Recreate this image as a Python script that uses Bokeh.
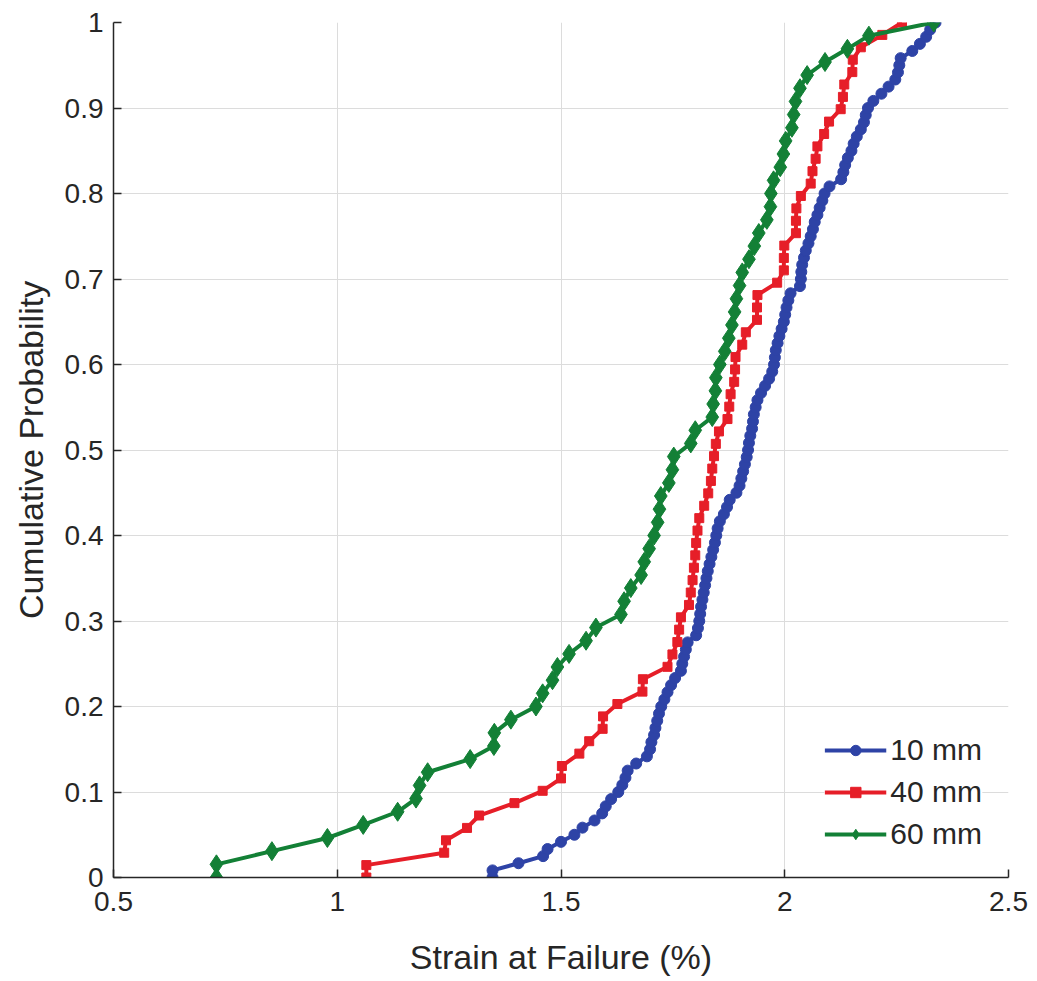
from bokeh.plotting import figure
from bokeh.models import Legend, LegendItem, FixedTicker, Range1d
from bokeh.embed import file_html
from bokeh.resources import INLINE

# ---- data ----
series_names = ["10 mm", "40 mm", "60 mm"]

x_10mm = [1.347, 1.347, 1.405, 1.46, 1.47, 1.50, 1.53, 1.548, 1.575, 1.592,
          1.600, 1.612, 1.628, 1.637, 1.644, 1.649, 1.668, 1.692, 1.699, 1.702,
          1.708, 1.711, 1.715, 1.719, 1.724, 1.731, 1.738, 1.746, 1.755, 1.768,
          1.771, 1.775, 1.779, 1.783, 1.802, 1.806, 1.809, 1.811, 1.813, 1.816,
          1.819, 1.822, 1.825, 1.828, 1.832, 1.836, 1.840, 1.844, 1.847, 1.850,
          1.855, 1.864, 1.871, 1.877, 1.892, 1.899, 1.903, 1.907, 1.911, 1.915,
          1.918, 1.920, 1.923, 1.927, 1.929, 1.931, 1.935, 1.939, 1.947, 1.956,
          1.965, 1.972, 1.976, 1.978, 1.980, 1.984, 1.988, 1.993, 1.998, 2.001,
          2.004, 2.008, 2.013, 2.034, 2.036, 2.037, 2.039, 2.043, 2.047, 2.053,
          2.058, 2.063, 2.067, 2.073, 2.078, 2.084, 2.089, 2.100, 2.126, 2.131,
          2.135, 2.141, 2.149, 2.154, 2.161, 2.170, 2.177, 2.181, 2.186, 2.198,
          2.216, 2.232, 2.247, 2.253, 2.256, 2.259, 2.285, 2.302, 2.316, 2.325,
          2.337]
y_10mm = [0, 0.0083, 0.0167, 0.025, 0.0333, 0.0417, 0.05, 0.0583, 0.0667, 0.075,
          0.0833, 0.0917, 0.1, 0.1083, 0.1167, 0.125, 0.1333, 0.1417, 0.15, 0.1583,
          0.1667, 0.175, 0.1833, 0.1917, 0.2, 0.2083, 0.2167, 0.225, 0.2333, 0.2417,
          0.25, 0.2583, 0.2667, 0.275, 0.2833, 0.2917, 0.3, 0.3083, 0.3167, 0.325,
          0.3333, 0.3417, 0.35, 0.3583, 0.3667, 0.375, 0.3833, 0.3917, 0.4, 0.4083,
          0.4167, 0.425, 0.4333, 0.4417, 0.45, 0.4583, 0.4667, 0.475, 0.4833, 0.4917,
          0.5, 0.5083, 0.5167, 0.525, 0.5333, 0.5417, 0.55, 0.5583, 0.5667, 0.575,
          0.5833, 0.5917, 0.6, 0.6083, 0.6167, 0.625, 0.6333, 0.6417, 0.65, 0.6583,
          0.6667, 0.675, 0.6833, 0.6917, 0.7, 0.7083, 0.7167, 0.725, 0.7333, 0.7417,
          0.75, 0.7583, 0.7667, 0.775, 0.7833, 0.7917, 0.8, 0.8083, 0.8167, 0.825,
          0.8333, 0.8417, 0.85, 0.8583, 0.8667, 0.875, 0.8833, 0.8917, 0.9, 0.9083,
          0.9167, 0.925, 0.9333, 0.9417, 0.95, 0.9583, 0.9667, 0.975, 0.9833, 0.9917,
          1.0]

x_40mm = [1.065, 1.065, 1.239, 1.243, 1.29, 1.317, 1.396, 1.459, 1.5, 1.502,
          1.541, 1.563, 1.593, 1.594, 1.626, 1.682, 1.683, 1.738, 1.749, 1.76,
          1.764, 1.768, 1.786, 1.79, 1.794, 1.797, 1.8, 1.802, 1.805, 1.809,
          1.82, 1.829, 1.835, 1.838, 1.842, 1.846, 1.853, 1.872, 1.876, 1.879,
          1.887, 1.889, 1.89, 1.905, 1.913, 1.938, 1.938, 1.939, 1.983, 1.998,
          1.998, 1.999, 2.025, 2.025, 2.026, 2.036, 2.058, 2.062, 2.069, 2.073,
          2.088, 2.099, 2.125, 2.13, 2.133, 2.151, 2.152, 2.17, 2.218, 2.262]
y_40mm = [0, 0.0145, 0.029, 0.0435, 0.058, 0.0725, 0.087, 0.1014, 0.1159, 0.1304,
          0.1449, 0.1594, 0.1739, 0.1884, 0.2029, 0.2174, 0.2319, 0.2464, 0.2609, 0.2754,
          0.2899, 0.3043, 0.3188, 0.3333, 0.3478, 0.3623, 0.3768, 0.3913, 0.4058, 0.4203,
          0.4348, 0.4493, 0.4638, 0.4783, 0.4928, 0.5072, 0.5217, 0.5362, 0.5507, 0.5652,
          0.5797, 0.5942, 0.6087, 0.6232, 0.6377, 0.6522, 0.6667, 0.6812, 0.6957, 0.7101,
          0.7246, 0.7391, 0.7536, 0.7681, 0.7826, 0.7971, 0.8116, 0.8261, 0.8406, 0.8551,
          0.8696, 0.8841, 0.8986, 0.913, 0.9275, 0.942, 0.9565, 0.971, 0.9855, 1.0]

x_60mm = [0.73, 0.73, 0.854, 0.978, 1.058, 1.135, 1.176, 1.184, 1.202, 1.297,
          1.35, 1.351, 1.388, 1.444, 1.459, 1.481, 1.492, 1.518, 1.556, 1.578,
          1.634, 1.641, 1.656, 1.679, 1.686, 1.697, 1.708, 1.716, 1.72, 1.723,
          1.741, 1.749, 1.752, 1.79, 1.80, 1.838, 1.84, 1.845, 1.846, 1.855,
          1.866, 1.875, 1.882, 1.888, 1.892, 1.899, 1.905, 1.92, 1.932, 1.942,
          1.96, 1.968, 1.969, 1.975, 1.99, 1.997, 2.002, 2.016, 2.02, 2.024,
          2.034, 2.05, 2.09, 2.14, 2.188, 2.333]
y_60mm = [0, 0.0154, 0.0308, 0.0462, 0.0615, 0.0769, 0.0923, 0.1077, 0.1231, 0.1385,
          0.1538, 0.1692, 0.1846, 0.2, 0.2154, 0.2308, 0.2462, 0.2615, 0.2769, 0.2923,
          0.3077, 0.3231, 0.3385, 0.3538, 0.3692, 0.3846, 0.4, 0.4154, 0.4308, 0.4462,
          0.4615, 0.4769, 0.4923, 0.5077, 0.5231, 0.5385, 0.5538, 0.5692, 0.5846, 0.6,
          0.6154, 0.6308, 0.6462, 0.6615, 0.6769, 0.6923, 0.7077, 0.7231, 0.7385, 0.7538,
          0.7692, 0.7846, 0.8, 0.8154, 0.8308, 0.8462, 0.8615, 0.8769, 0.8923, 0.9077,
          0.9231, 0.9385, 0.9538, 0.9692, 0.9846, 1.0]

x_ticks = [0.5, 1.0, 1.5, 2.0, 2.5]
x_tick_labels = ["0.5", "1", "1.5", "2", "2.5"]
y_ticks = [0, 0.1, 0.2, 0.3, 0.4, 0.5, 0.6, 0.7, 0.8, 0.9, 1.0]
y_tick_labels = ["0", "0.1", "0.2", "0.3", "0.4", "0.5", "0.6", "0.7", "0.8", "0.9", "1"]

x_title = "Strain at Failure (%)"
y_title = "Cumulative Probability"

# ---- styles ----
colors = ["#2E43A6", "#E61E28", "#138036"]
markers = ["circle", "square", "diamond"]
marker_sizes = [11, 9, 19]
FONT = "Liberation Sans"
TXT = "#262626"

p = figure(width=1037, height=981, output_backend="svg", toolbar_location=None,
           x_range=Range1d(0.5, 2.5), y_range=Range1d(0, 1),
           min_border_left=113, min_border_right=29, min_border_top=22,
           min_border_bottom=104)
p.outline_line_color = None
p.background_fill_color = "white"
p.border_fill_color = "white"

p.xaxis.ticker = FixedTicker(ticks=x_ticks)
p.yaxis.ticker = FixedTicker(ticks=y_ticks)
p.xaxis.major_label_overrides = {t: l for t, l in zip(x_ticks, x_tick_labels)}
p.yaxis.major_label_overrides = {t: l for t, l in zip(y_ticks, y_tick_labels)}

for ax in (p.xaxis, p.yaxis):
    ax.axis_line_color = TXT
    ax.axis_line_width = 1.5
    ax.major_tick_line_color = TXT
    ax.major_tick_line_width = 1.5
    ax.major_tick_in = 8
    ax.major_tick_out = 0
    ax.minor_tick_line_color = None
    ax.major_label_text_font = FONT
    ax.major_label_text_font_size = "28px"
    ax.major_label_text_color = TXT
    ax.axis_label_text_font = FONT
    ax.axis_label_text_font_size = "34px"
    ax.axis_label_text_font_style = "normal"
    ax.axis_label_text_color = TXT

p.xaxis.axis_label = x_title
p.yaxis.axis_label = y_title
p.xaxis.major_label_standoff = 14
p.yaxis.major_label_standoff = 10
p.xaxis.axis_label_standoff = 24
p.yaxis.axis_label_standoff = 12

p.xgrid.grid_line_color = "#DCDCDC"
p.ygrid.grid_line_color = "#DCDCDC"
p.xgrid.grid_line_width = 1
p.ygrid.grid_line_width = 1

xs = [x_10mm, x_40mm, x_60mm]
ys = [y_10mm, y_40mm, y_60mm]
items = []
for name, x, y, c, m, s in zip(series_names, xs, ys, colors, markers, marker_sizes):
    ln = p.line(x, y, line_color=c, line_width=4)
    sc = p.scatter(x, y, marker=m, size=s, fill_color=c, line_color=c)
    items.append(LegendItem(label=name, renderers=[ln, sc]))

legend = Legend(items=items, location="bottom_right")
legend.label_text_font = FONT
legend.label_text_font_size = "30px"
legend.label_text_color = TXT
legend.border_line_color = None
legend.background_fill_color = "white"
legend.background_fill_alpha = 1.0
legend.glyph_width = 62
legend.glyph_height = 26
legend.label_height = 26
legend.spacing = 8
legend.label_standoff = 4
legend.padding = 6
legend.margin = 26
p.add_layout(legend)

open("out.html", "w").write(file_html(p, INLINE))
